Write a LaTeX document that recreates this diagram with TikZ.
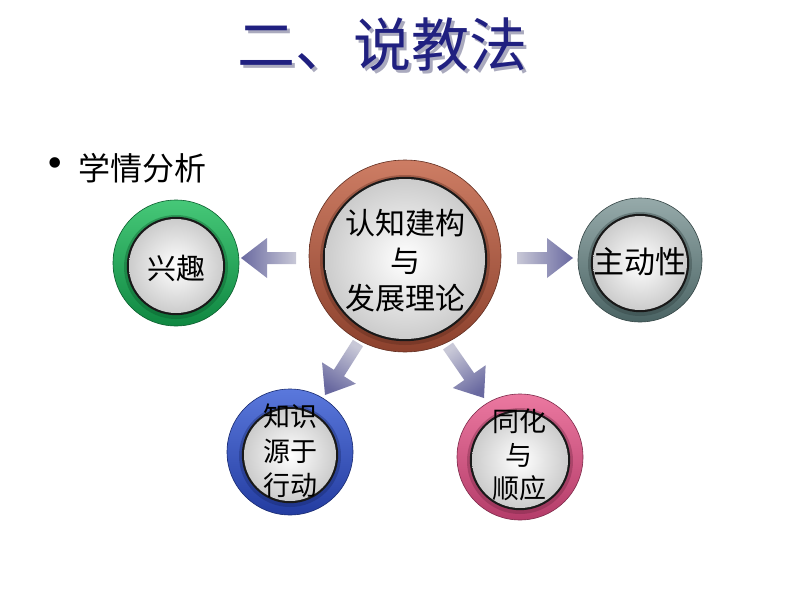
\documentclass[tikz,border=0pt]{standalone}
\usepackage{fontspec}
\setmainfont{Liberation Serif}
\newfontfamily\cjk{Noto Sans CJK SC}
\usetikzlibrary{calc}
\definecolor{titleblue}{RGB}{32,32,128}
\definecolor{titleshadow}{RGB}{170,170,190}
\definecolor{arrowlight}{RGB}{200,200,215}
\definecolor{arrowdark}{RGB}{105,105,160}
\definecolor{brownL}{RGB}{205,125,100}
\definecolor{brownD}{RGB}{140,65,45}
\definecolor{greenL}{RGB}{70,200,120}
\definecolor{greenD}{RGB}{15,135,65}
\definecolor{grayL}{RGB}{150,170,170}
\definecolor{grayD}{RGB}{75,100,100}
\definecolor{blueL}{RGB}{90,120,220}
\definecolor{blueD}{RGB}{35,60,160}
\definecolor{pinkL}{RGB}{235,120,160}
\definecolor{pinkD}{RGB}{180,60,105}
\newcommand\myring[7]{%
  % #1 name, #2 x, #3 y, #4 R, #5 r, #6 light, #7 dark
  \shade[top color=#6, bottom color=#7, draw=#7!70!black, line width=0.6pt] (#2,#3) circle[radius=#4];
  \fill[#7!60!black, opacity=0.35] (#2,#3+4) circle[radius=#5+5];
  \fill[black!90] (#2,#3+3) circle[radius=#5+2.2];
  \shade[inner color=white, outer color=black!20] (#2,#3+3) circle[radius=#5];
  \node[circle, minimum size=2*#4, inner sep=0pt] (#1) at (#2,#3) {};
}
\newcommand\myarrow[3]{%
  % #1 start coordinate, #2 tip coordinate, #3 shading angle
  \coordinate (hb) at ($(#2)!26pt!(#1)$);
  \shade[top color=arrowdark, bottom color=arrowlight, shading angle=#3]
    ($(#1)!6pt!90:(#2)$) -- ($(hb)!6pt!90:(#2)$) -- ($(hb)!20pt!90:(#2)$) -- (#2)
    -- ($(hb)!20pt!-90:(#2)$) -- ($(hb)!6pt!-90:(#2)$) -- ($(#1)!6pt!-90:(#2)$) -- cycle;
}
\tikzset{
  lbl/.style={font=\cjk\fontsize{#1}{#1}\selectfont, text=black, inner sep=0pt},
}
\begin{document}
\begin{tikzpicture}[x=1pt,y=-1pt]
\useasboundingbox[fill=white] (0,0) rectangle (794,596);
% title with shadow in one node
\node[font=\cjk\fontsize{58}{58}\selectfont, text=titleblue] (title) at (382,46)
  {\makebox[0pt][l]{\hspace{3pt}\raisebox{-3pt}{\textcolor{titleshadow}{二、说教法}}}二、说教法};
% bullet
\node[font=\fontsize{44}{44}\selectfont, inner sep=0pt] (bul) at (55,168) {•};
\node[lbl=32, anchor=west] (xq) at (78,168) {学情分析};
% arrow coordinates
\coordinate (aLs) at (296,258); \coordinate (aLt) at (241,258);
\coordinate (aRs) at (517,258); \coordinate (aRt) at (573,258);
\coordinate (aBLs) at (358,343); \coordinate (aBLt) at (325,395);
\coordinate (aBRs) at (448,346); \coordinate (aBRt) at (484,398);
\myarrow{aLs}{aLt}{90}
\myarrow{aRs}{aRt}{270}
\myarrow{aBLs}{aBLt}{147}
\myarrow{aBRs}{aBRt}{215}
% rings
\myring{center}{405}{256}{96}{80}{brownL}{brownD}
\myring{green}{176}{263}{63}{47}{greenL}{greenD}
\myring{gray}{640}{260}{62}{47}{grayL}{grayD}
\myring{blue}{290}{452}{63}{46}{blueL}{blueD}
\myring{pink}{520}{457}{63}{48}{pinkL}{pinkD}
% labels
\node[lbl=30] (c1) at (405,223) {认知建构};
\node[lbl=30] (c2) at (405,261) {与};
\node[lbl=30] (c3) at (405,298) {发展理论};
\node[lbl=29] (g1) at (176,268) {兴趣};
\node[lbl=31] (r1) at (640,262) {主动性};
\node[lbl=27] (b1) at (290,416) {知识};
\node[lbl=27] (b2) at (290,451) {源于};
\node[lbl=27] (b3) at (290,485) {行动};
\node[lbl=27] (p1) at (519,421) {同化};
\node[lbl=27] (p2) at (519,455) {与};
\node[lbl=27] (p3) at (519,488) {顺应};
\end{tikzpicture}
\end{document}
